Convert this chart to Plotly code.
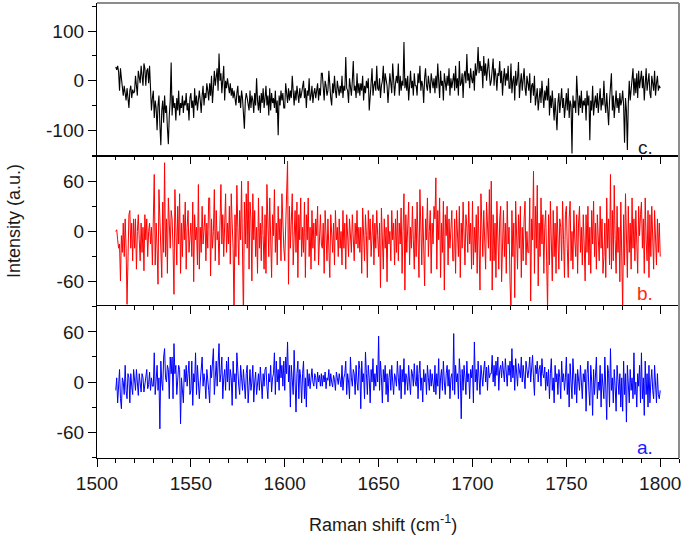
import plotly.graph_objects as go

# ---- data: 0.5 cm-1 steps starting at 1510 ----
x_start = 1510
x_step = 0.5

c_vals = [
    28, 22, 30, 18, -20, 25, 5, -15, -30, -10, -25, -40, -15, -30, -55, -20, -10, -35, -18, -25,
    -22, 10, -5, -30, 20, 5, -5, 30, 15, -10, 35, 25, -10, 20, 25, -5, 30, -20, -60, -35,
    -20, -75, -40, -55, -100, -50, -30, -90, -130, -60, -40, -85, -30, -65, -50, -95, -128, -70, -40, 37,
    -70, -30, -55, -45, -80, -35, -60, -20, -70, -45, -55, -30, -65, -40, -50, -25, -60, -45, -80, -35,
    -25, -55, -40, -75, -15, -50, -30, -60, -45, -20, -40, -65, -30, -10, -50, -25, -35, -5, -20, -40,
    -5, -30, 10, -45, -15, 20, -10, 5, 25, -20, 55, 0, 15, -25, 10, 30, -40, 0, -15, 5,
    -10, -25, -5, -30, -15, -35, -20, -40, -50, -25, -10, -45, -30, -55, -20, -35, -60, -97, -40, -25,
    -35, -45, -60, -20, -55, -30, -40, -65, -25, -50, 5, -40, -60, -30, -65, -25, -45, -15, -55, -35,
    -10, -50, -30, -70, -15, -60, -25, -45, -35, -55, -20, -65, -40, -110, -30, -50, -20, -40, -25, -55,
    -55, -5, -30, -45, -15, -40, -20, -35, 10, -25, -50, -20, -40, -10, -30, -45, -15, -35, -25, -5,
    0, -35, -15, -55, -20, -30, 5, -40, -30, -10, -45, -25, -15, -35, -20, -5, -40, -15, -30, 15,
    15, -20, -40, 0, -10, -30, -20, 20, -15, -35, -50, -5, -25, 10, -20, -35, 0, -15, -30, -10,
    -25, 10, -35, -10, -20, 48, -15, -20, -45, 5, -15, -30, 0, 40, -20, -10, -35, 15, -25, -5,
    -30, -5, -20, 10, -40, -10, -25, 0, -15, 5, -60, -20, -5, 25, -30, -10, 0, -20, 30, -15,
    -20, 5, -35, -10, 0, 30, -25, 15, 0, -10, -45, -15, 15, -5, -25, 35, -15, -30, -5, 10,
    -5, 35, -30, 10, -20, 0, -10, 78, -15, 5, -20, 10, -40, -5, 20, -15, 0, -30, 15, -10,
    -10, -30, 15, -5, 30, -20, 0, -10, -45, 5, 25, -10, -20, 10, -5, -25, 15, 0, -15, 5,
    -25, 10, -15, 35, -5, -35, 20, -10, 0, -40, 15, -5, -20, 10, -10, 25, -30, 5, -15, 0,
    15, -20, 30, -15, 5, -30, 40, -10, -5, 15, -35, 10, 20, -5, 54, 0, 15, -15, 25, 5,
    -5, 20, -20, 35, 10, 25, 68, 15, 40, 20, 30, -15, 50, 10, 35, 0, 25, 45, 15, -10,
    0, 30, 45, -10, 25, 10, -20, 15, 10, 40, -5, 20, -30, 5, 25, -10, 15, 0, 30, -15,
    -15, 35, -25, 0, 10, -40, 20, -10, 5, 38, -35, -5, 15, -20, 0, 25, -15, -30, 10, -10,
    -20, 15, -45, -10, -5, -30, 10, -50, -25, -15, -60, -35, -15, -45, 0, -30, -55, -20, -40, -10,
    -40, 5, -70, -30, -55, -20, -45, -80, -35, -60, -100, -45, -25, -65, -40, -15, -55, -35, -75, -45,
    -25, -60, -15, -75, -40, -50, -147, -30, -55, -40, -65, 10, -45, -70, -30, -55, -20, -65, -40, -50,
    -35, -80, -20, -50, -30, -120, -40, -60, -10, -70, -45, -30, -55, -25, -65, -40, -15, -60, -35, -50,
    0, -45, -65, -25, -50, -90, -40, -20, 15, -60, -30, -75, -45, -20, -55, -35, -65, -25, -50, -40,
    -20, -50, -125, -35, -60, -140, -45, 0, -40, -20, -10, 25, -30, 5, -25, 15, -35, 20, -15, 0,
    20, -15, 10, -40, -5, 25, -20, -5, 15, -25, -35, 10, -10, -20, 20, -30, -5, 10, -20, -10,
    -15,
]

b_vals = [
    0, 2, -10, -20, -15, -59, -5, -25, 10, -30, 15, -20, -87, -40, 20, 25, -20, 10, -35, 15,
    -20, 15, -45, 0, 20, -10, -35, 10, -25, 5, -47, 20, -10, 15, -30, 0, 10, -15, 5, -40,
    30, 68, -40, 10, -20, -63, 50, 20, -10, -55, 35, -25, 82, -30, 15, -50, 40, 0, -20, 25,
    15, -20, -75, 50, 0, -40, 30, -15, 45, -50, 10, -30, 20, -10, 35, -45, 5, 25, -25, 0,
    10, -30, 35, -60, 20, -10, 5, -40, 56, -45, 5, -25, 30, -15, 0, 20, -35, 10, -20, 40,
    40, -53, 15, -20, 0, 50, -35, 25, -10, 0, -40, 30, 56, -15, 20, -30, 5, 45, -25, 10,
    -15, 30, -39, 45, 10, -20, -100, 20, -30, 55, 5, -40, 25, -10, 60, -20, -105, 35, -15, 45,
    -20, 60, -45, 35, 15, -59, 45, -10, 25, -30, 5, -50, 40, -20, 10, -35, 30, -5, -45, 20,
    -50, 56, 0, -30, 40, -15, -55, 20, -5, 50, -25, 10, -40, 30, -10, 15, -35, 45, 0, -20,
    -35, 15, 40, 84, -63, 30, -20, 10, 45, -40, 0, 25, -25, 35, -55, 20, -10, 40, -30, 5,
    -25, 35, -55, 20, -10, 40, -30, 5, -45, 25, -20, 10, -35, 15, -5, 30, -40, 0, 20, -15,
    -20, 10, -50, 25, -5, -35, 15, -15, -55, 20, 0, -25, 10, -40, 25, -10, 5, -30, 15, -20,
    0, -40, 25, -20, 10, -45, 20, -10, -30, 15, -5, -25, 20, 0, -35, 10, -15, 25, -20, 5,
    -25, 5, -50, 28, -15, -35, 20, -5, -55, 25, -10, 15, -30, 0, 20, -40, 10, -20, 25, -5,
    -30, 10, -67, 28, -10, -45, 15, -20, 5, -60, 20, -15, 0, -35, 25, -10, 10, -40, 15, -25,
    25, -35, 10, -15, 28, -50, 0, 45, -70, 20, -25, 10, 35, -40, 5, -20, 30, -10, -45, 15,
    -30, 35, -10, -55, 50, 5, -40, 30, -20, -65, 15, -10, 40, -30, 0, 25, -50, 10, -15, 30,
    15, 64, -45, 25, -10, 40, -55, 10, -25, 36, -70, 20, -5, 30, -40, 15, -20, 0, 25, -35,
    -35, 15, -50, 25, 0, -30, 30, -55, 10, -20, 35, -10, -40, 20, 5, -25, 36, -15, 10, -45,
    36, -40, 5, -25, 20, -50, 30, -15, -70, 45, 10, -30, 25, -5, -45, 35, 0, -20, 50, -35,
    60, -70, 20, -35, 10, -55, 36, -20, -45, 15, 30, -60, 0, 25, -30, 10, -50, 36, -15, 5,
    -60, -95, 25, -30, 10, -79, 36, -10, -45, 20, -20, 30, -55, 5, -35, 15, 36, -40, 0, -25,
    -25, 40, -83, 15, -10, 72, -50, 30, -20, 55, -65, 10, -30, 40, -15, 20, -50, 5, 25, -35,
    -95, 20, -40, 36, -15, -59, 25, -30, 10, -50, 30, -20, -45, 15, 5, -35, 36, -10, -55, 20,
    30, -20, -55, 15, 36, -35, 0, -45, 25, -10, -30, 20, -50, 10, 30, -25, 5, -40, 20, -15,
    -59, 20, -25, 30, -40, 5, -50, 25, -15, 36, -30, 10, -45, 20, 0, -35, 30, -20, 15, -50,
    -30, 10, -55, 40, -20, 15, -40, 68, -45, 25, -35, 55, -10, -50, 30, -25, 5, -60, 35, -15,
    -95, 20, -40, 45, -10, -55, 30, -25, 10, -45, 40, -20, 15, -35, 25, -10, -50, 30, -5, 20,
    35, -20, 15, -50, 40, -10, -35, 25, -55, 20, -30, 30, -15, -45, 25, 0, -40, 15, -25, 10,
    -30,
]

a_vals = [
    -10, 5, -25, 0, 15, -20, -32, 5, 0, -15, 20, -10, -20, 10, 5, -25, 10, -5, -15, 15,
    5, -10, 15, -5, -16, 10, 0, -12, 10, 5, -12, 0, 5, 15, -8, -3, 12, -10, 5, -5,
    -5, 35, -15, 10, 20, -10, 5, -56, 25, 0, -10, 30, 40, 5, 0, 20, 15, -20, 30, 10,
    30, -20, 46, 10, 20, -15, 5, 20, 15, -50, 5, -10, -25, 15, 0, 20, -5, 10, 25, -15,
    -10, 25, -28, 10, 0, 35, -15, 20, 5, -20, 0, 15, 30, -5, 10, 0, -20, 15, 5, -10,
    -25, 20, 5, 25, 40, -15, 10, 25, -5, 15, 46, 0, 10, 30, -20, 5, 15, -10, 25, 0,
    30, -10, 15, 5, -28, 25, 0, 10, -20, 35, 10, -5, -15, 20, 5, -10, 15, 0, -20, 10,
    20, -25, 5, 15, -10, 0, 20, -24, 0, 12, -15, 5, 10, -10, 18, 0, -20, 10, -5, 15,
    18, -5, -20, 10, 0, 20, -12, 5, 10, 35, -15, 25, 0, 15, -10, 30, 5, 20, -5, 25,
    -10, 30, 10, 48, 0, 20, -30, 20, 5, -15, 38, 0, -36, 10, 25, -20, 15, 5, -25, 10,
    25, -20, 5, -30, 15, -5, 10, -8, 5, 16, 0, -5, 10, 5, -8, 12, 0, 8, -5, 10,
    -5, 8, 0, 12, -8, 5, 2, 15, -5, 10, 0, -6, 8, 3, -10, 12, 5, -3, 10, 0,
    -6, 20, -10, 5, 10, 25, -15, 10, 0, -20, 30, 5, -5, 15, 10, -15, 20, 0, -10, 25,
    15, -32, 25, 0, 10, -20, 36, 10, -15, 20, 5, -25, 15, 0, 28, -10, 10, -5, 20, 0,
    55, -10, 25, 5, -25, 15, 0, 20, -15, 10, -24, 5, 15, -10, 20, 0, -15, 10, 5, -5,
    25, 5, -10, 20, -20, 15, 0, 28, -15, 10, 5, -10, 20, 0, -15, 15, 10, -5, 22, 0,
    -5, 20, -20, 10, 25, -10, 5, -24, 15, 0, 10, -15, 20, 5, -10, 15, -5, 10, 0, -12,
    20, -15, 10, -5, 28, -20, 5, 15, -10, 25, 0, -15, 10, 20, -5, 15, -20, 5, 10, -10,
    58, -15, 20, 0, 10, -20, 28, 10, -44, 15, -10, 20, 5, -15, 25, 0, 10, -20, 15, 5,
    20, -25, 48, 0, 15, -10, 25, 5, -15, 20, 10, -5, 15, 25, 0, 18, -10, 20, 5, 10,
    10, 32, 0, 20, -5, 25, 8, 30, -10, 15, 20, 5, 25, 10, 0, 28, 12, -5, 20, 8,
    25, 0, 40, 5, 20, -10, 28, 10, -5, 22, 15, 5, 30, 0, 20, 10, -8, 25, 12, 5,
    15, 30, 0, 18, 32, 5, -16, 20, 10, 25, 0, 15, 20, -5, 28, 10, 5, 18, -10, 12,
    -5, 15, -20, 10, 28, -10, 5, -25, 20, 0, 10, -15, 15, 5, -20, 25, 0, 10, -10, 5,
    30, -15, 10, -30, 22, 0, -20, 28, 5, -15, 10, -25, 15, 0, -10, 20, -5, -20, 10, 0,
    15, -35, 10, 25, -10, -28, 20, 0, -40, 15, -15, 5, 30, -20, 0, -10, 20, -30, 10, -5,
    -20, 30, -5, -45, 20, 10, -30, 40, -10, 5, -25, 15, -5, -35, 20, 0, -15, 10, -30, 5,
    -35, 25, -15, 10, -48, 20, 0, -25, 15, -10, 5, -20, 35, -15, 0, -30, 10, -5, 20, -25,
    35, -20, 5, -40, 25, -15, 10, -30, 20, -25, 0, 15, -10, -20, 20, -5, -25, 10, -15, -20,
    -10,
]

x_c = [x_start + x_step * i for i in range(len(c_vals))]
x_b = [x_start + x_step * i for i in range(len(b_vals))]
x_a = [x_start + x_step * i for i in range(len(a_vals))]

x_tickvals = [1500, 1550, 1600, 1650, 1700, 1750, 1800]
y_ticks_top = [-100, 0, 100]
y_ticktext_top = ["-100", "0", "100"]
y_ticks_mid = [-60, 0, 60]
y_ticktext_mid = ["-60", "0", "60"]
y_ticks_bot = [-60, 0, 60]
y_ticktext_bot = ["-60", "0", "60"]
panel_labels = ["c.", "b.", "a."]

FONT = "Liberation Sans, Arial, sans-serif"
TXT = "#1a1a1a"
XR = [1500, 1810]

fig = go.Figure()
fig.add_trace(go.Scatter(x=x_c, y=c_vals, mode="lines", line=dict(color="black", width=1.1),
                         xaxis="x", yaxis="y", showlegend=False))
fig.add_trace(go.Scatter(x=x_b, y=b_vals, mode="lines", line=dict(color="#ff0000", width=1),
                         xaxis="x2", yaxis="y2", showlegend=False))
fig.add_trace(go.Scatter(x=x_a, y=a_vals, mode="lines", line=dict(color="#0000ff", width=1),
                         xaxis="x3", yaxis="y3", showlegend=False))
# dummy trace so the overlaid top-tick axis of the bottom panel is drawn
fig.add_trace(go.Scatter(x=[None], y=[None], xaxis="x4", yaxis="y3", showlegend=False,
                         hoverinfo="skip"))

d_bot = [0, 0.334]
d_mid = [0.334, 0.6637]
d_top = [0.6637, 1.0]


def yax(domain, rng, tickvals, ticktext, minor_dt, anchor):
    return dict(domain=domain, range=rng, tickvals=tickvals, ticktext=ticktext, anchor=anchor,
                showline=True, linecolor="black", linewidth=1.3, ticks="outside",
                ticklen=8, tickwidth=1.3, tickcolor="black", showgrid=False, zeroline=False,
                tickfont=dict(family=FONT, size=19, color=TXT),
                minor=dict(dtick=minor_dt, ticks="outside", ticklen=4, tickwidth=1.2,
                           tickcolor="black", showgrid=False))


minor_x = dict(dtick=10, tick0=1500, ticklen=4, tickwidth=1.2, tickcolor="black", showgrid=False)

fig.update_layout(
    width=683, height=538,
    margin=dict(l=97, r=4, t=3, b=80),
    paper_bgcolor="white", plot_bgcolor="white",
    xaxis=dict(domain=[0, 1], range=XR, anchor="y", showline=True, linecolor="black",
               linewidth=1.3, ticks="", showticklabels=False, showgrid=False, zeroline=False),
    xaxis2=dict(domain=[0, 1], range=XR, anchor="y2", side="top", showline=True,
                linecolor="black", linewidth=1.3, ticks="inside", ticklen=8, tickwidth=1.3,
                tickcolor="black", tickvals=x_tickvals, showticklabels=False,
                minor=dict(minor_x, ticks="inside"), showgrid=False, zeroline=False),
    xaxis3=dict(domain=[0, 1], range=XR, anchor="y3", side="bottom", showline=True,
                linecolor="black", linewidth=1.3, ticks="outside", ticklen=8, tickwidth=1.3,
                tickcolor="black", tickvals=x_tickvals,
                tickfont=dict(family=FONT, size=19, color=TXT),
                minor=dict(minor_x, ticks="outside"), showgrid=False, zeroline=False),
    xaxis4=dict(domain=[0, 1], range=XR, anchor="y3", overlaying="x3", side="top",
                showline=True, linecolor="black", linewidth=1.3, ticks="inside", ticklen=8,
                tickwidth=1.3, tickcolor="black", tickvals=x_tickvals, showticklabels=False,
                minor=dict(minor_x, ticks="inside"), showgrid=False, zeroline=False),
    yaxis=yax(d_top, [-152, 157], y_ticks_top, y_ticktext_top, 50, "x"),
    yaxis2=yax(d_mid, [-89, 90], y_ticks_mid, y_ticktext_mid, 30, "x2"),
    yaxis3=yax(d_bot, [-91, 91], y_ticks_bot, y_ticktext_bot, 30, "x3"),
)

# outer frame (top and right borders, grey)
fig.add_shape(type="line", xref="paper", yref="paper", x0=0, x1=1, y0=1, y1=1,
              line=dict(color="#8c8c8c", width=2))
fig.add_shape(type="line", xref="paper", yref="paper", x0=1, x1=1, y0=0, y1=1,
              line=dict(color="#8c8c8c", width=2))

label_colors = ["#1a1a2a", "#ff2a10", "#1a1aff"]
label_y = [0.6835, 0.3626, 0.022]
for txt, col, yy in zip(panel_labels, label_colors, label_y):
    fig.add_annotation(text=txt, x=0.9416, y=yy, xref="paper", yref="paper",
                       xanchor="center", yanchor="middle", showarrow=False,
                       font=dict(family=FONT, size=19, color=col))

fig.add_annotation(text="Raman shift (cm<sup>-1</sup>)", x=0.491, y=-0.143, xref="paper",
                   yref="paper", xanchor="center", yanchor="middle", showarrow=False,
                   font=dict(family=FONT, size=18, color=TXT))
fig.add_annotation(text="Intensity (a.u.)", x=-0.1426, y=0.521, xref="paper", yref="paper",
                   xanchor="center", yanchor="middle", showarrow=False, textangle=-90,
                   font=dict(family=FONT, size=18, color=TXT))

fig.write_html("out.html", config={"displayModeBar": False},
               post_script="document.body.style.margin='0px';")
